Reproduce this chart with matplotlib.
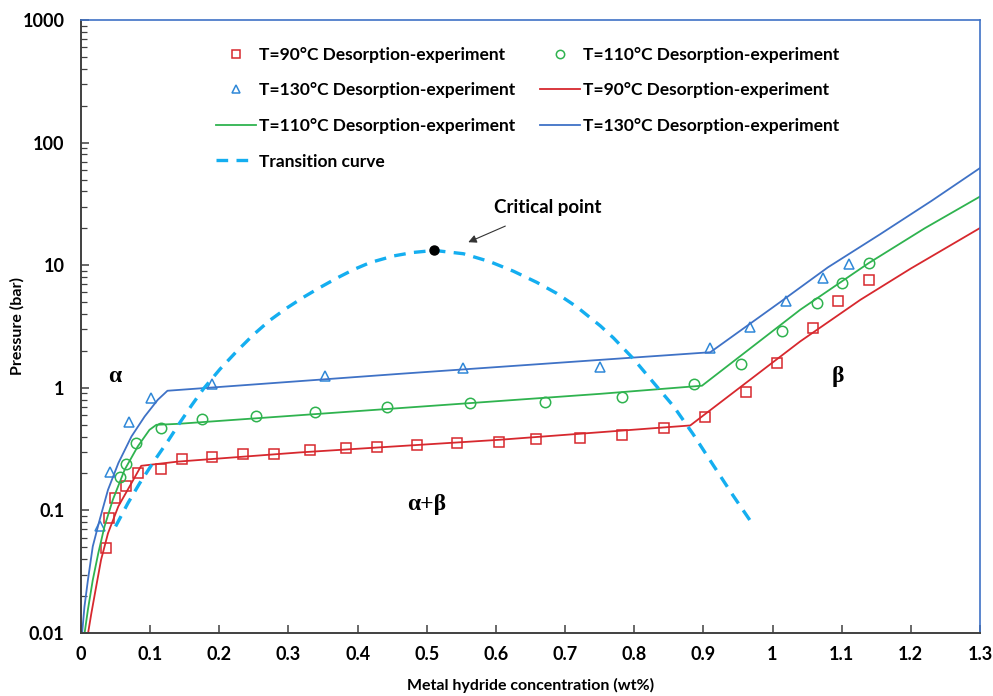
import numpy as np
import matplotlib
matplotlib.use("Agg")
import matplotlib.pyplot as plt
from matplotlib.ticker import LogLocator, NullFormatter

plt.rcParams['font.family'] = ['Lato', 'DejaVu Sans']
plt.rcParams['font.weight'] = 'bold'

# experimental desorption points (wt%, bar)
sq_x = [0.036, 0.041, 0.049, 0.065, 0.083, 0.115, 0.146, 0.189, 0.234, 0.279, 0.331, 0.383, 0.428,
        0.486, 0.543, 0.605, 0.658, 0.722, 0.783, 0.843, 0.902, 0.961, 1.006, 1.058, 1.095, 1.140]
sq_p = [0.049, 0.086, 0.126, 0.159, 0.200, 0.219, 0.262, 0.275, 0.286, 0.291, 0.312, 0.322, 0.332,
        0.339, 0.354, 0.358, 0.381, 0.386, 0.414, 0.466, 0.573, 0.922, 1.58, 3.10, 5.15, 7.56]

circ_x = [0.056, 0.065, 0.079, 0.115, 0.175, 0.253, 0.339, 0.442, 0.562, 0.671, 0.783, 0.887,
          0.954, 1.013, 1.064, 1.101, 1.139]
circ_p = [0.186, 0.240, 0.354, 0.469, 0.559, 0.594, 0.634, 0.696, 0.750, 0.759, 0.839, 1.08,
          1.57, 2.92, 4.91, 7.14, 10.4]

tri_x = [0.027, 0.042, 0.070, 0.101, 0.190, 0.353, 0.552, 0.751, 0.910, 0.968, 1.020, 1.073, 1.111]
tri_p = [0.074, 0.207, 0.531, 0.824, 1.08, 1.25, 1.46, 1.48, 2.11, 3.16, 5.06, 7.85, 10.3]

# model curves
red_x = [0.010, 0.015, 0.022, 0.029, 0.039, 0.054, 0.073, 0.087, 0.140, 0.316, 0.606, 0.881,
         1.040, 1.127, 1.200, 1.300]
red_p = [0.0098, 0.0145, 0.024, 0.0395, 0.065, 0.108, 0.167, 0.231, 0.250, 0.297, 0.377, 0.493,
         2.39, 5.22, 9.4, 20.1]

green_x = [0.005, 0.010, 0.017, 0.025, 0.034, 0.046, 0.063, 0.082, 0.099, 0.109, 0.140, 0.461,
           0.751, 0.898, 1.040, 1.139, 1.220, 1.300]
green_p = [0.0098, 0.0155, 0.027, 0.0448, 0.074, 0.122, 0.214, 0.332, 0.454, 0.499, 0.508, 0.683,
           0.893, 1.04, 4.33, 10.4, 20.0, 36.3]

blue_x = [0.0015, 0.005, 0.010, 0.017, 0.027, 0.039, 0.054, 0.073, 0.092, 0.111, 0.125, 0.461,
          0.751, 0.910, 1.011, 1.080, 1.155, 1.230, 1.300]
blue_p = [0.0098, 0.0164, 0.027, 0.0508, 0.0838, 0.147, 0.243, 0.401, 0.583, 0.798, 0.946, 1.30,
          1.69, 1.95, 5.0, 9.6, 17.8, 33.5, 62.0]

trans_x = [0.050, 0.068, 0.085, 0.107, 0.126, 0.143, 0.160, 0.177, 0.201, 0.225, 0.249, 0.273,
           0.297, 0.321, 0.346, 0.370, 0.394, 0.418, 0.452, 0.480, 0.511, 0.553, 0.591, 0.625,
           0.659, 0.688, 0.717, 0.751, 0.770, 0.799, 0.828, 0.857, 0.885, 0.914, 0.943, 0.970]
trans_p = [0.074, 0.115, 0.167, 0.259, 0.370, 0.520, 0.720, 0.98, 1.42, 1.98, 2.70, 3.55,
           4.45, 5.45, 6.60, 7.85, 9.20, 10.5, 11.9, 12.7, 13.2, 12.4, 10.7, 8.95,
           7.25, 5.89, 4.57, 3.20, 2.55, 1.72, 1.10, 0.705, 0.420, 0.235, 0.132, 0.079]

crit_x, crit_p = 0.511, 13.2

x_ticks = [0, 0.1, 0.2, 0.3, 0.4, 0.5, 0.6, 0.7, 0.8, 0.9, 1.0, 1.1, 1.2, 1.3]
x_labels = ['0', '0.1', '0.2', '0.3', '0.4', '0.5', '0.6', '0.7', '0.8', '0.9', '1', '1.1', '1.2', '1.3']
y_ticks = [0.01, 0.1, 1, 10, 100, 1000]
y_labels = ['0.01', '0.1', '1', '10', '100', '1000']

RED = '#d7282e'
GREEN = '#2fb34f'
BLUE_M = '#2f88d8'
BLUE_L = '#3f72c6'
CYAN = '#14aef0'

fig = plt.figure(figsize=(9.93, 6.96), dpi=100)
ax = fig.add_axes([81/993, 63/696, 899/993, 613/696])

ms = 7.5
h_sq, = ax.plot(sq_x, sq_p, 's', ms=ms, mfc='none', mec=RED, mew=1.1,
                label='T=90°C Desorption-experiment')
h_ci, = ax.plot(circ_x, circ_p, 'o', ms=ms, mfc='none', mec=GREEN, mew=1.1,
                label='T=110°C Desorption-experiment')
h_tr, = ax.plot(tri_x, tri_p, '^', ms=ms, mfc='none', mec=BLUE_M, mew=1.1,
                label='T=130°C Desorption-experiment')
h_r, = ax.plot(red_x, red_p, '-', color=RED, lw=1.3, label='T=90°C Desorption-experiment')
h_g, = ax.plot(green_x, green_p, '-', color=GREEN, lw=1.3, label='T=110°C Desorption-experiment')
h_b, = ax.plot(blue_x, blue_p, '-', color=BLUE_L, lw=1.3, label='T=130°C Desorption-experiment')
h_t, = ax.plot(trans_x, trans_p, color=CYAN, lw=2.4, ls=(0, (3.5, 2.5)), label='Transition curve')
ax.plot([crit_x], [crit_p], 'o', color='black', ms=6.5, zorder=5)

ax.annotate('Critical point', xy=(0.560, 15.4), xytext=(0.675, 29.5),
            ha='center', va='center', fontsize=13.5, fontweight='bold',
            arrowprops=dict(arrowstyle='-|>', color='#333333', lw=0.8,
                            mutation_scale=12, shrinkA=13, shrinkB=0))

greek = dict(fontsize=17, fontweight='bold', family='Liberation Serif', ha='center', va='center')
ax.text(0.049, 1.23, '\u03b1', **greek)
ax.text(1.095, 1.23, '\u03b2', **greek)
ax.text(0.50, 0.111, '\u03b1+\u03b2', **greek)

ax.set_yscale('log')
ax.set_xlim(0, 1.3)
ax.set_ylim(0.01, 1000)
ax.set_xticks(x_ticks)
ax.set_xticklabels(x_labels)
ax.set_yticks(y_ticks)
ax.set_yticklabels(y_labels)
ax.yaxis.set_minor_locator(LogLocator(base=10, subs=np.arange(2, 10)))
ax.yaxis.set_minor_formatter(NullFormatter())
ax.tick_params(axis='both', which='major', direction='in', length=6, width=1.1,
               labelsize=13, color='#404040')
ax.tick_params(axis='y', which='minor', direction='in', length=4, width=0.9, color='#404040')
ax.tick_params(axis='y', which='major', pad=12)
ax.tick_params(axis='x', which='major', pad=9)

for s in ['left', 'bottom']:
    ax.spines[s].set_color('#404040')
    ax.spines[s].set_linewidth(1.4)
for s in ['top', 'right']:
    ax.spines[s].set_color(BLUE_L)
    ax.spines[s].set_linewidth(1.2)

ax.set_xlabel('Metal hydride concentration (wt%)', fontsize=11.5, fontweight='bold')
ax.set_ylabel('Pressure (bar)', fontsize=11.5, fontweight='bold')
ax.xaxis.set_label_coords(0.5, -0.074)
ax.yaxis.set_label_coords(-0.063, 0.5)

ax.legend(handles=[h_sq, h_tr, h_g, h_t, h_ci, h_r, h_b], ncol=2, frameon=False,
          loc='upper left', bbox_to_anchor=(0.141, 0.9706), fontsize=12.5,
          labelspacing=1.13, columnspacing=1.4, handlelength=2.3, handletextpad=0.17,
          markerscale=0.8, borderpad=0)

fig.savefig('out.png', dpi=100)
